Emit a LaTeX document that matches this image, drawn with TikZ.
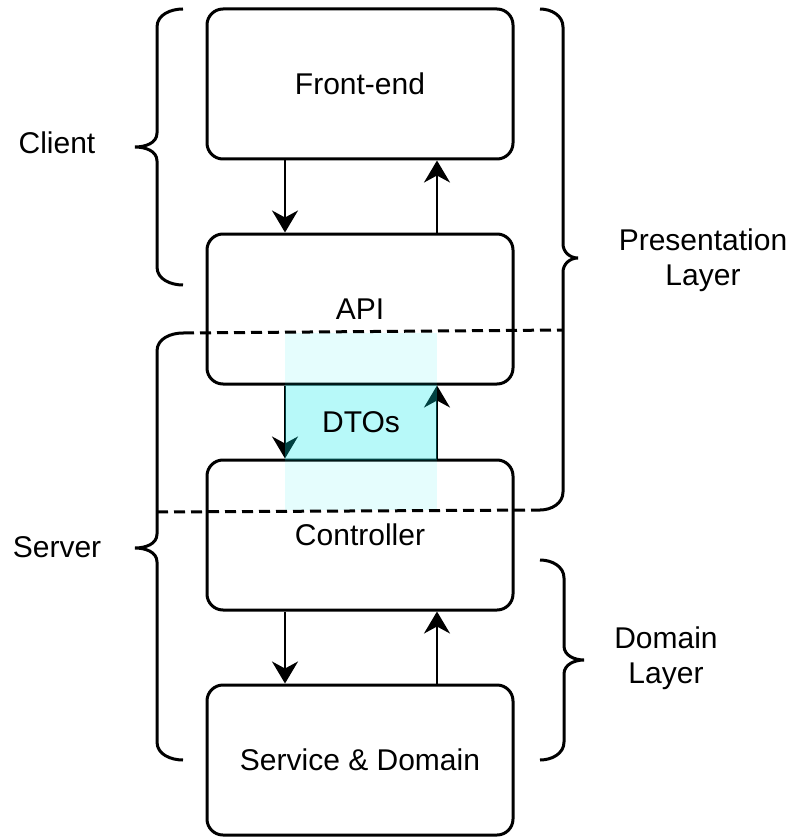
\documentclass[tikz,border=0pt]{standalone}
\usepackage{fontspec}
\setmainfont{Liberation Sans}
\usetikzlibrary{arrows.meta}
\definecolor{dtoc}{RGB}{0,235,235}
\tikzset{
  bx/.style={draw, line width=3pt, rounded corners=16pt, minimum width=306pt, minimum height=150pt, font=\fontsize{30}{35}\selectfont},
  ar/.style={-{Stealth[length=22pt,width=26pt,inset=7pt]}, line width=2.2pt},
  br/.style={line width=3pt},
  dl/.style={line width=3pt, dash pattern=on 11pt off 6pt},
  tx/.style={font=\fontsize{30}{35}\selectfont, align=center},
  dto/.style={fill=dtoc, fill opacity=0.2, text opacity=1, minimum width=152pt, minimum height=75pt, inner sep=0pt, font=\fontsize{30}{35}\selectfont}
}
\begin{document}
\begin{tikzpicture}[x=1pt,y=-1pt]
  \useasboundingbox (0,0) rectangle (794,837);

  \node[bx] (fe) at (360,84) {Front-end};
  \node[bx] (api) at (360,309) {API};
  \node[bx] (ctl) at (360,535) {Controller};
  \node[bx] (svc) at (360,760) {Service \& Domain};

  \draw[ar] ([xshift=-75pt]fe.south) -- ([xshift=-75pt]api.north);
  \draw[ar] ([xshift=77pt]api.north) -- ([xshift=77pt]fe.south);
  \draw[ar] ([xshift=-75pt]api.south) -- ([xshift=-75pt]ctl.north);
  \draw[ar] ([xshift=77pt]ctl.north) -- ([xshift=77pt]api.south);
  \draw[ar] ([xshift=-75pt]ctl.south) -- ([xshift=-75pt]svc.north);
  \draw[ar] ([xshift=77pt]svc.north) -- ([xshift=77pt]ctl.south);

  \fill[dtoc, opacity=0.1] (285,333) rectangle (437,510);
  \node[dto] (dtos) at (361,422.5) {DTOs};

  \draw[br] (183,9) to[out=180,in=90] (157,27) -- (157,133) to[out=-90,in=0] (135,147)
    to[out=0,in=90] (157,161) -- (157,267) to[out=-90,in=180] (183,285);
  \draw[br] (183,333) to[out=180,in=90] (157,351) -- (157,534) to[out=-90,in=0] (135,548)
    to[out=0,in=90] (157,562) -- (157,742) to[out=-90,in=180] (183,760);
  \draw[br] (540,9) to[out=0,in=90] (563,27) -- (563,244) to[out=-90,in=180] (578,258)
    to[out=180,in=90] (563,272) -- (563,492) to[out=-90,in=0] (540,510);
  \draw[br] (540,560) to[out=0,in=90] (564,578) -- (564,646) to[out=-90,in=180] (584,660)
    to[out=180,in=90] (564,674) -- (564,742) to[out=-90,in=0] (540,760);

  \draw[dl] (183,333) -- (563,330);
  \draw[dl] (157,512) -- (540,510);

  \node[tx] (client) at (57,143) {Client};
  \node[tx] (server) at (57,547) {Server};
  \node[tx] (pres) at (703,260) {Presentation\\Layer};
  \node[tx] (dom) at (666,658) {Domain\\Layer};
\end{tikzpicture}
\end{document}
